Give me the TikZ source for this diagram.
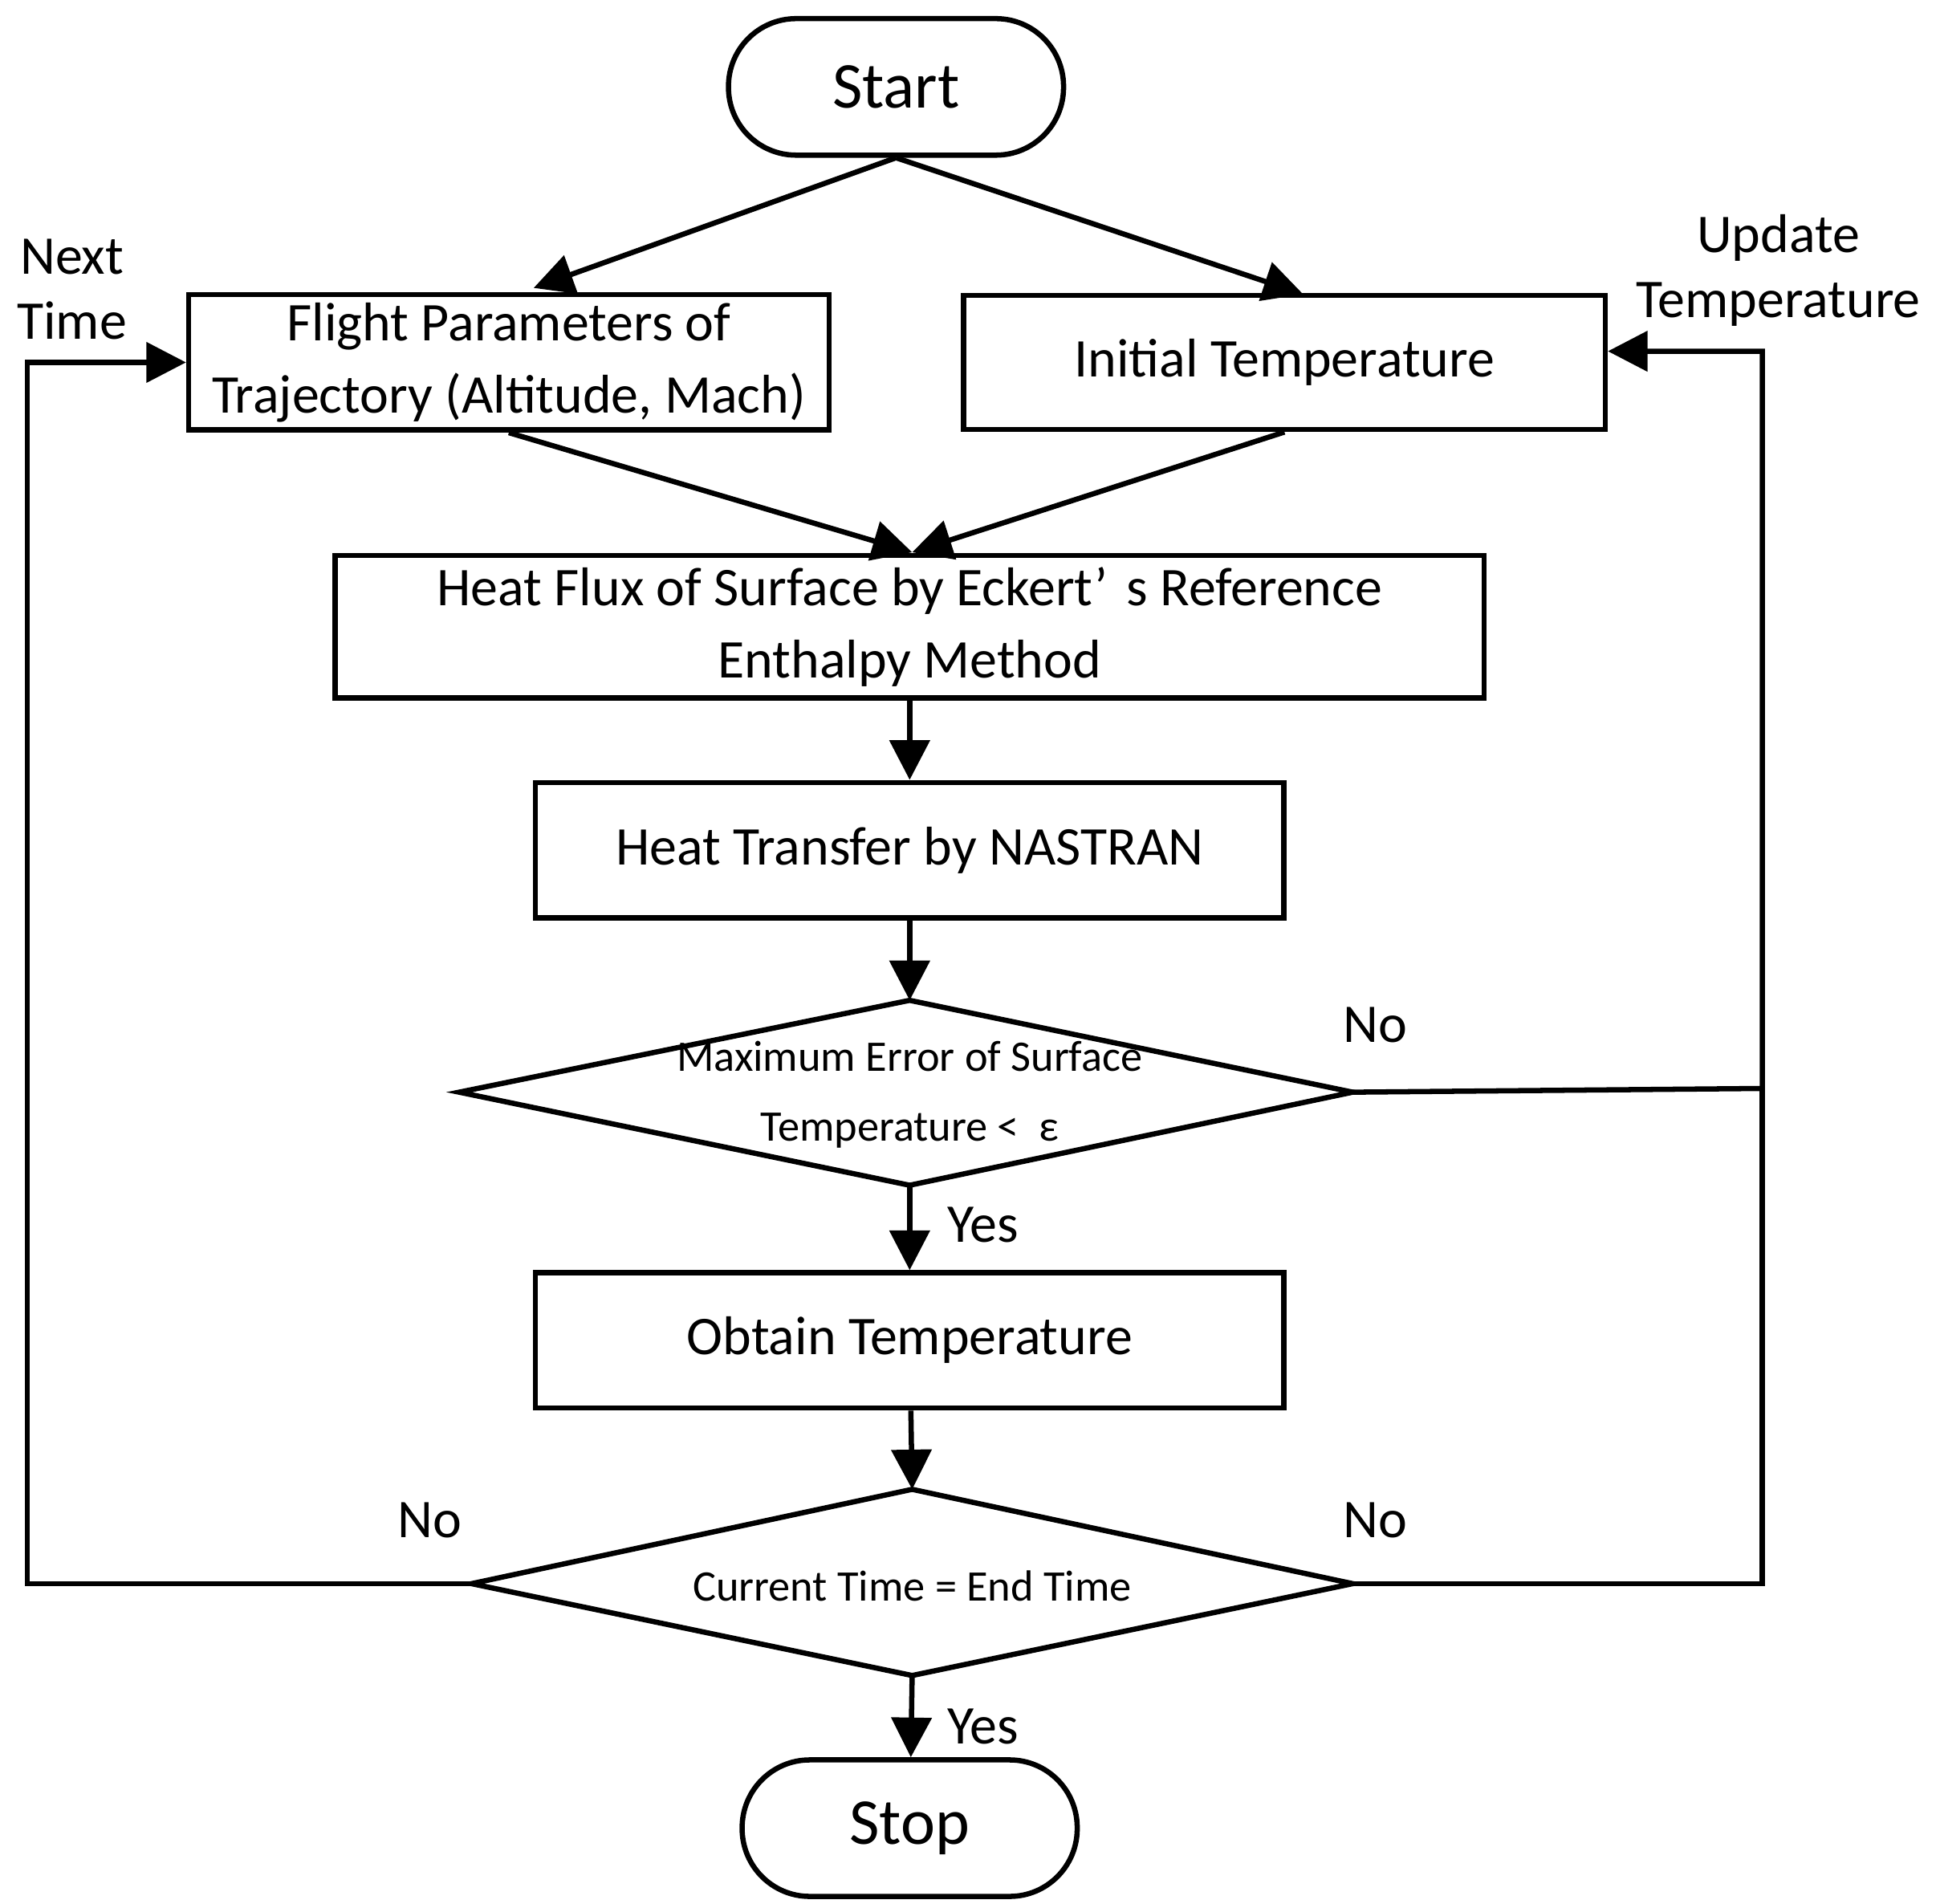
\documentclass[tikz,border=0pt]{standalone}
\usepackage{fontspec}
\setmainfont{Carlito}
\usetikzlibrary{shapes.geometric,arrows.meta}
\begin{document}
\begin{tikzpicture}[x=0.1mm,y=-0.1mm,line width=1.2pt,
  box/.style={draw,rectangle,minimum width=#1,align=center,inner sep=0pt,font=\fontsize{12.5}{16.5}\selectfont},
  term/.style={draw,rounded corners=15.5pt,minimum width=27mm,minimum height=11mm,font=\fontsize{15}{18}\selectfont},
  lbl/.style={font=\fontsize{12.5}{15}\selectfont,align=center},
  arr/.style={-{Triangle[length=3.2mm,width=3.2mm]}},
  every node/.style={}]
\useasboundingbox (0,0) rectangle (1560,1534);
\node[term] (start) at (722,70) {Start};
\node[box=51.6mm,minimum height=10.9mm] (flight) at (410,292) {Flight Parameters of\\Trajectory (Altitude, Mach)};
\node[box=51.7mm,minimum height=10.8mm] (init) at (1035,292) {Initial Temperature};
\node[box=92.6mm,minimum height=11.5mm] (flux) at (733,505) {Heat Flux of Surface by Eckert’\,\,s Reference\\Enthalpy Method};
\node[box=60.3mm,minimum height=10.9mm] (trans) at (733,685) {Heat Transfer by NASTRAN};
\coordinate (d1t) at (733,806); \coordinate (d1b) at (733,955);
\coordinate (d1l) at (370,880); \coordinate (d1r) at (1090,880);
\draw (d1t) -- (d1r) -- (d1b) -- (d1l) -- cycle;
\node[lbl,font=\fontsize{10}{16}\selectfont] (d1) at (733,882) {Maximum Error of Surface\\Temperature <\ \ ε};
\node[box=60.3mm,minimum height=10.9mm] (obt) at (733,1080) {Obtain Temperature};
\coordinate (d2t) at (735,1200); \coordinate (d2b) at (735,1350);
\coordinate (d2l) at (380,1276); \coordinate (d2r) at (1090,1276);
\draw (d2t) -- (d2r) -- (d2b) -- (d2l) -- cycle;
\node[lbl,font=\fontsize{10}{12}\selectfont] (d2) at (735,1278) {Current Time = End Time};
\node[term] (stop) at (733,1473) {Stop};
\coordinate (fa) at (430,232); \coordinate (ia) at (1050,237); \coordinate (ha) at (735,445);
\draw[arr] (start.south) -- (fa);
\draw[arr] (start.south) -- (ia);
\draw[arr] (flight.south) -- (ha);
\draw[arr] (init.south) -- (ha);
\draw[arr] (flux) -- (trans);
\draw[arr] (trans) -- (d1t);
\draw[arr] (d1b) -- (obt);
\draw[arr] (obt) -- (d2t);
\draw[arr] (d2b) -- (stop);
\coordinate (j1) at (1420,877); \coordinate (j2) at (1420,283);
\coordinate (k1) at (1420,1276);
\coordinate (l1) at (22,1276); \coordinate (l2) at (22,292);
\draw[arr] (d1r) -- (j1) -- (j2) -- (init.east |- j2);
\draw (d2r) -- (k1) -- (j1);
\draw[arr] (d2l) -- (l1) -- (l2) -- (flight.west);
\node[lbl] (nt) at (58,233) {Next\\Time};
\node[lbl] (ut) at (1433,218) {Update\\Temperature};
\node[lbl] (n1) at (1108,826) {No};
\node[lbl] (n2) at (1108,1225) {No};
\node[lbl] (n3) at (346,1225) {No};
\node[lbl] (y1) at (792,987) {Yes};
\node[lbl] (y2) at (792,1391) {Yes};
\end{tikzpicture}
\end{document}
